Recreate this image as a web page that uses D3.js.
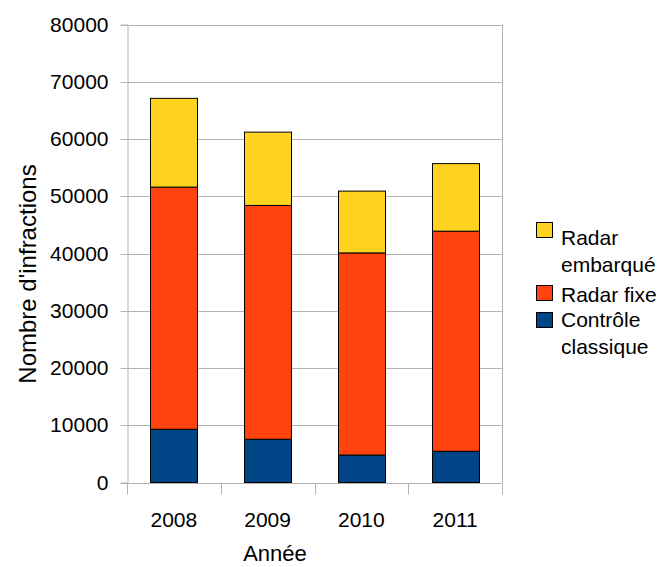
<!DOCTYPE html>
<html>
<head>
<meta charset="utf-8">
<script src="https://cdn.jsdelivr.net/npm/d3@7"></script>
<style>
  html, body { margin: 0; padding: 0; background: #fff; }
  svg { display: block; font-family: "Liberation Sans", Arial, sans-serif; }
</style>
</head>
<body>
<svg id="chart" width="662" height="567"></svg>
<script>
// Infractions per year, stacked by detection method
const years = ["2008", "2009", "2010", "2011"];
const controleClassique = [9300, 7550, 4800, 5450];
const radarFixe = [42300, 40850, 35300, 38450];
const radarEmbarque = [15500, 12800, 10800, 11800];
const seriesNames = ["Contrôle classique", "Radar fixe", "Radar embarqué"];
const seriesColors = ["#004586", "#ff420e", "#ffd320"];
const yTicks = [0, 10000, 20000, 30000, 40000, 50000, 60000, 70000, 80000];

const rows = years.map((yr, i) => ({
  year: yr,
  "Contrôle classique": controleClassique[i],
  "Radar fixe": radarFixe[i],
  "Radar embarqué": radarEmbarque[i]
}));

const svg = d3.select("#chart");
const plotLeft = 127, plotRight = 502, plotTop = 24.5, plotBottom = 482.5;
const fontSize = 21;

const x = d3.scaleBand().domain(years).range([plotLeft, plotRight]).paddingInner(0.5).paddingOuter(0.25);
const y = d3.scaleLinear().domain([0, 80000]).range([plotBottom, plotTop]);
const color = d3.scaleOrdinal().domain(seriesNames).range(seriesColors);

const grid = "#b3b3b3";

// horizontal grid lines
svg.append("g").selectAll("line").data(yTicks).join("line")
  .attr("x1", plotLeft).attr("x2", plotRight)
  .attr("y1", d => Math.round(y(d)) + 0.5).attr("y2", d => Math.round(y(d)) + 0.5)
  .attr("stroke", grid).attr("stroke-width", 1);

// right border of the plot area
svg.append("line")
  .attr("x1", plotRight + 0.5).attr("x2", plotRight + 0.5)
  .attr("y1", y(80000)).attr("y2", y(0))
  .attr("stroke", grid);

// y axis
const yAxis = svg.append("g").attr("transform", `translate(${plotLeft + 0.5},0)`)
  .call(d3.axisLeft(y).tickValues(yTicks).tickFormat(d3.format("d")).tickSize(7).tickPadding(12));
yAxis.select(".domain").attr("stroke", grid);
yAxis.selectAll(".tick line").attr("stroke", grid);
yAxis.selectAll(".tick").attr("transform", d => `translate(0,${Math.round(y(d)) + 0.5})`);
yAxis.selectAll("text").attr("font-size", fontSize).attr("fill", "#000")
  .attr("font-family", "Liberation Sans, Arial, sans-serif");

// x axis with ticks at band boundaries
const xAxisG = svg.append("g").attr("transform", `translate(0,${Math.round(plotBottom) + 0.5})`);
xAxisG.append("line").attr("x1", plotLeft).attr("x2", plotRight).attr("stroke", grid);
const step = x.step();
const boundaries = d3.range(years.length + 1).map(i => plotLeft + i * step);
xAxisG.selectAll("line.tk").data(boundaries).join("line").attr("class", "tk")
  .attr("x1", d => Math.round(d) + 0.5).attr("x2", d => Math.round(d) + 0.5)
  .attr("y1", 0).attr("y2", 11).attr("stroke", grid);
xAxisG.selectAll("text").data(years).join("text")
  .attr("x", d => x(d) + x.bandwidth() / 2).attr("y", 43)
  .attr("text-anchor", "middle").attr("font-size", fontSize).attr("fill", "#000")
  .text(d => d);

// stacked bars
const stack = d3.stack().keys(seriesNames)(rows);
svg.append("g").selectAll("g").data(stack).join("g")
  .attr("fill", d => color(d.key))
  .selectAll("rect").data(d => d).join("rect")
  .attr("x", d => Math.round(x(d.data.year)) + 0.5)
  .attr("width", Math.round(x.bandwidth()))
  .attr("y", d => y(d[1]))
  .attr("height", d => y(d[0]) - y(d[1]))
  .attr("stroke", "#000").attr("stroke-width", 1);

// axis titles
svg.append("text")
  .attr("x", 275).attr("y", 561)
  .attr("text-anchor", "middle").attr("font-size", 22).text("Année");
svg.append("text")
  .attr("transform", "translate(36,274) rotate(-90)")
  .attr("text-anchor", "middle").attr("font-size", 24).text("Nombre d'infractions");

// legend
const legendItems = [
  { name: "Radar embarqué", lines: ["Radar", "embarqué"], sy: 222, ty: 245 },
  { name: "Radar fixe", lines: ["Radar fixe"], sy: 285, ty: 302 },
  { name: "Contrôle classique", lines: ["Contrôle", "classique"], sy: 312, ty: 327 }
];
const legend = svg.append("g");
legendItems.forEach(item => {
  legend.append("rect")
    .attr("x", 536.5).attr("y", item.sy + 0.5).attr("width", 16).attr("height", 15)
    .attr("fill", color(item.name)).attr("stroke", "#000").attr("stroke-width", 1);
  item.lines.forEach((t, j) => {
    legend.append("text")
      .attr("x", 561).attr("y", item.ty + j * 26.5)
      .attr("font-size", fontSize).text(t);
  });
});
</script>
</body>
</html>
